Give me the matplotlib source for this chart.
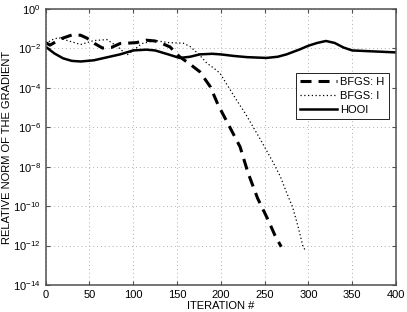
import matplotlib
matplotlib.use('Agg')
import matplotlib.pyplot as plt
import numpy as np

# log10 of the relative gradient norm
hooi_it = [0, 10, 20, 30, 40, 55, 70, 85, 100, 115, 125, 140, 153, 165, 176, 190, 200, 215, 230, 252, 265, 275, 290, 300, 310, 320, 330, 340, 350, 370, 400]
hooi_log = [-1.91, -2.25, -2.5, -2.63, -2.66, -2.6, -2.45, -2.3, -2.1, -2.06, -2.1, -2.3, -2.48, -2.42, -2.3, -2.27, -2.3, -2.38, -2.44, -2.48, -2.42, -2.3, -2.05, -1.86, -1.72, -1.62, -1.72, -1.95, -2.1, -2.14, -2.2]

bfgsh_it = [0, 5, 18, 31, 40, 47, 56, 65, 75, 85, 94, 104, 115, 125, 132, 142, 153, 165, 176, 188, 197, 210, 222, 231, 242, 254, 262, 269]
bfgsh_log = [-1.7, -1.83, -1.5, -1.3, -1.33, -1.47, -1.75, -1.98, -1.95, -1.75, -1.73, -1.7, -1.58, -1.62, -1.73, -1.92, -2.42, -2.8, -3.18, -3.94, -4.87, -5.97, -6.99, -8.3, -9.6, -10.7, -11.5, -12.06]

bfgsi_it = [0, 8, 15, 25, 40, 55, 70, 82, 93, 100, 110, 125, 140, 150, 157, 165, 175, 184, 192, 199, 208, 218, 228, 237, 245, 252, 260, 268, 275, 282, 288, 294, 296]
bfgsi_log = [-1.75, -1.55, -1.45, -1.6, -1.8, -1.6, -1.55, -1.9, -2.33, -2.1, -1.75, -1.6, -1.7, -1.72, -1.73, -1.9, -2.3, -2.74, -3.0, -3.25, -3.9, -4.62, -5.3, -5.99, -6.6, -7.16, -7.8, -8.5, -9.3, -10.05, -11.0, -12.08, -12.2]

yticks = [10.0**k for k in range(0, -15, -2)]
ytick_labels = [r'$10^{%d}$' % k for k in range(0, -15, -2)]


def main():
    plt.rcParams['font.family'] = ['Liberation Sans', 'DejaVu Sans']
    plt.rcParams['mathtext.fontset'] = 'custom'
    plt.rcParams['mathtext.rm'] = 'Liberation Sans'
    plt.rcParams['mathtext.it'] = 'Liberation Sans'

    fig = plt.figure(figsize=(4.07, 3.12), dpi=100)
    ax = fig.add_axes([0.112, 0.0865, 0.861, 0.8845])

    ax.semilogy(bfgsh_it, 10.0**np.array(bfgsh_log), color='k', lw=2.2,
                linestyle=(0, (3.6, 2.3)), label='BFGS: H')
    ax.semilogy(bfgsi_it, 10.0**np.array(bfgsi_log), color='k', lw=0.9,
                linestyle=(0, (1, 2)), label='BFGS: I')
    ax.semilogy(hooi_it, 10.0**np.array(hooi_log), color='k', lw=1.8,
                label='HOOI')

    ax.set_xlim(0, 400)
    ax.set_ylim(1e-14, 1e0)
    ax.set_xticks(range(0, 401, 50))
    ax.set_yticks(yticks)
    ax.set_yticklabels(ytick_labels)
    ax.minorticks_off()
    ax.tick_params(direction='in', top=True, right=True, labelsize=8, length=3,
                   color='#505050')
    ax.grid(True, color='#b0b0b0', linestyle=(0, (1, 3)), lw=0.7)
    for sp in ax.spines.values():
        sp.set_color('#505050')
        sp.set_linewidth(1.1)

    ax.set_xlabel('ITERATION #', fontsize=8, labelpad=1)
    ax.set_ylabel('RELATIVE NORM OF THE GRADIENT', fontsize=8, labelpad=1)

    leg = ax.legend(loc='upper right', bbox_to_anchor=(0.98, 0.77), fontsize=8,
                    fancybox=False, edgecolor='k', framealpha=1,
                    handlelength=3.3, borderpad=0.4, labelspacing=0.35,
                    handletextpad=0.3, borderaxespad=0)
    leg.get_frame().set_linewidth(0.6)

    fig.savefig('out.png', dpi=100)


if __name__ == "__main__": main()
